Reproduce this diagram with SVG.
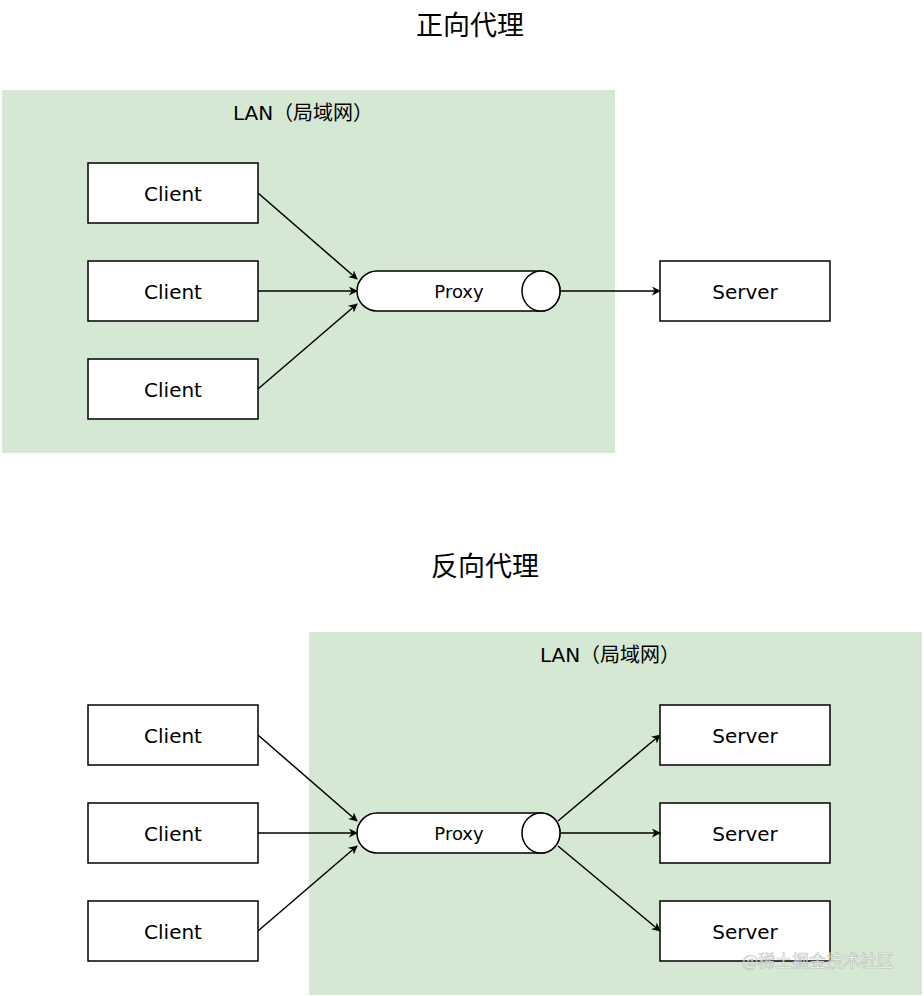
<svg xmlns="http://www.w3.org/2000/svg" width="924" height="996" viewBox="0 0 924 996">
<style>
.lan{fill:#d5e8d4;stroke:none}
.box{fill:#fff;stroke:#000;stroke-width:1.5}
.t{font-family:"DejaVu Sans","Noto Sans CJK SC",sans-serif;fill:#000;text-anchor:middle}
.title{font-family:"Noto Sans CJK SC",sans-serif;font-size:27px;fill:#000;text-anchor:middle}
.lbl{font-size:20px}
.px{font-size:18px}
.edge{stroke:#000;stroke-width:1.5;fill:none;marker-end:url(#arr)}
</style>
<defs>
<marker id="arr" viewBox="0 0 10 10" refX="9" refY="5" markerWidth="9" markerHeight="9" markerUnits="userSpaceOnUse" orient="auto">
<path d="M0,0 L10,5 L0,10 L3,5 Z" fill="#000"/>
</marker>
<g id="cyl">
<path d="M20,0 H184 A19,20 0 0 1 184,40 H20 A20,20 0 0 1 20,0 Z" class="box"/>
<ellipse cx="184" cy="20" rx="19" ry="20" class="box"/>
</g>
</defs>
<rect width="924" height="996" fill="#fff"/>

<text class="title" x="470" y="35">正向代理</text>
<g id="lan1"><rect class="lan" x="2" y="90" width="613" height="363"/><text class="t lbl" x="303" y="120">LAN（局域网）</text></g>

<g id="c1"><rect class="box" x="88" y="163" width="170" height="60"/><text class="t lbl" x="173" y="201">Client</text></g>
<g id="c2"><rect class="box" x="88" y="261" width="170" height="60"/><text class="t lbl" x="173" y="299">Client</text></g>
<g id="c3"><rect class="box" x="88" y="359" width="170" height="60"/><text class="t lbl" x="173" y="397">Client</text></g>
<g id="p1"><use href="#cyl" x="357" y="271"/><text class="t px" x="459" y="298">Proxy</text></g>
<g id="s1"><rect class="box" x="660" y="261" width="170" height="60"/><text class="t lbl" x="745" y="299">Server</text></g>

<text class="title" x="485" y="576">反向代理</text>
<g id="lan2"><rect class="lan" x="309" y="632" width="613" height="363"/><text class="t lbl" x="610" y="662">LAN（局域网）</text></g>

<g id="c4"><rect class="box" x="88" y="705" width="170" height="60"/><text class="t lbl" x="173" y="743">Client</text></g>
<g id="c5"><rect class="box" x="88" y="803" width="170" height="60"/><text class="t lbl" x="173" y="841">Client</text></g>
<g id="c6"><rect class="box" x="88" y="901" width="170" height="60"/><text class="t lbl" x="173" y="939">Client</text></g>
<g id="p2"><use href="#cyl" x="357" y="813"/><text class="t px" x="459" y="840">Proxy</text></g>
<g id="s2"><rect class="box" x="660" y="705" width="170" height="60"/><text class="t lbl" x="745" y="743">Server</text></g>
<g id="s3"><rect class="box" x="660" y="803" width="170" height="60"/><text class="t lbl" x="745" y="841">Server</text></g>
<g id="s4"><rect class="box" x="660" y="901" width="170" height="60"/><text class="t lbl" x="745" y="939">Server</text></g>

<g id="edges">
<path class="edge" d="M258,193 L357,279"/>
<path class="edge" d="M258,291 L357,291"/>
<path class="edge" d="M258,389 L357,304"/>
<path class="edge" d="M561,291 L660,291"/>
<path class="edge" d="M258,735 L357,821"/>
<path class="edge" d="M258,833 L357,833"/>
<path class="edge" d="M258,931 L357,846"/>
<path class="edge" d="M558,821 L660,735"/>
<path class="edge" d="M561,833 L660,833"/>
<path class="edge" d="M558,846 L660,931"/>
</g>
<text x="818" y="967" font-family="'Noto Sans CJK SC',sans-serif" font-size="17" fill="#fff" fill-opacity="0.75" stroke="#999" stroke-width="0.6" stroke-opacity="0.6" text-anchor="middle">@稀土掘金技术社区</text>
</svg>
